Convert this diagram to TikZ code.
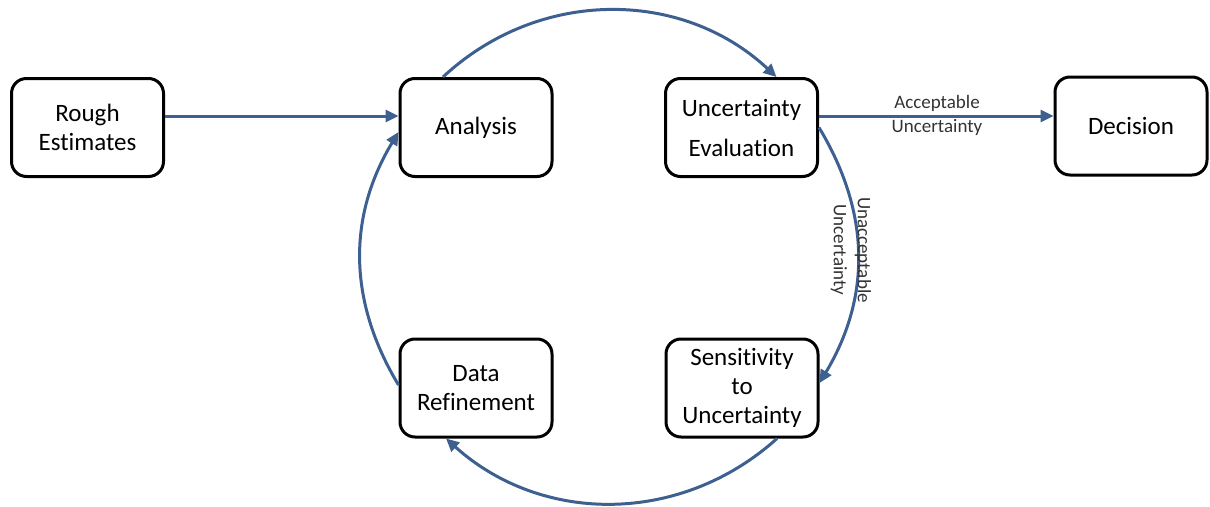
\documentclass[tikz,border=0pt]{standalone}
\usepackage{fontspec}
\setmainfont{Carlito}[Ligatures=NoCommon]
\usetikzlibrary{arrows.meta}
\definecolor{arr}{HTML}{3D6091}
\begin{document}
\begin{tikzpicture}[x=1pt,y=-1pt,
 box/.style={draw=black, line width=3pt, rounded corners=15pt, minimum width=152pt, minimum height=98pt, align=center, font=\fontsize{25}{29}\selectfont, inner sep=0pt},
 link/.style={draw=arr, line width=3pt, -{Triangle[length=13pt,width=12pt]}},
 lbl/.style={font=\fontsize{19}{24}\selectfont, text=black!80, align=center, inner sep=0pt}]
\useasboundingbox (0,0) rectangle (1210,506);
\node[box] (re) at (87.5,127.5) {Rough\\Estimates};
\node[box] (an) at (476,127.5) {Analysis};
\node[box] (ue) at (741.5,127.5) {Uncertainty\\[11pt]Evaluation};
\node[box] (de) at (1131,126) {Decision};
\node[box] (dr) at (476,388) {Data\\Refinement};
\node[box] (su) at (742,388) {Sensitivity\\to\\Uncertainty};
\draw[link] ([yshift=11.5pt]re.east) -- ([yshift=11.5pt]an.west);
\draw[link] ([yshift=11.5pt]ue.east) -- ([yshift=10pt]de.west);
\draw[link] ([xshift=-33pt]an.north) to[bend left=43] ([xshift=35pt]ue.north);
\draw[link] (ue.east) to[bend left=31] ([yshift=5pt]su.east);
\draw[link] ([xshift=35pt]su.south) to[bend left=42] ([xshift=-30pt]dr.south);
\draw[link] ([yshift=3pt]dr.west) to[bend left=31] ([yshift=-4.5pt]an.west);
\node[lbl] (acc) at (937,115) {Acceptable\\Uncertainty};
\node[lbl, rotate=-90] (unacc) at (851,250) {Unacceptable\\Uncertainty};
\end{tikzpicture}
\end{document}
